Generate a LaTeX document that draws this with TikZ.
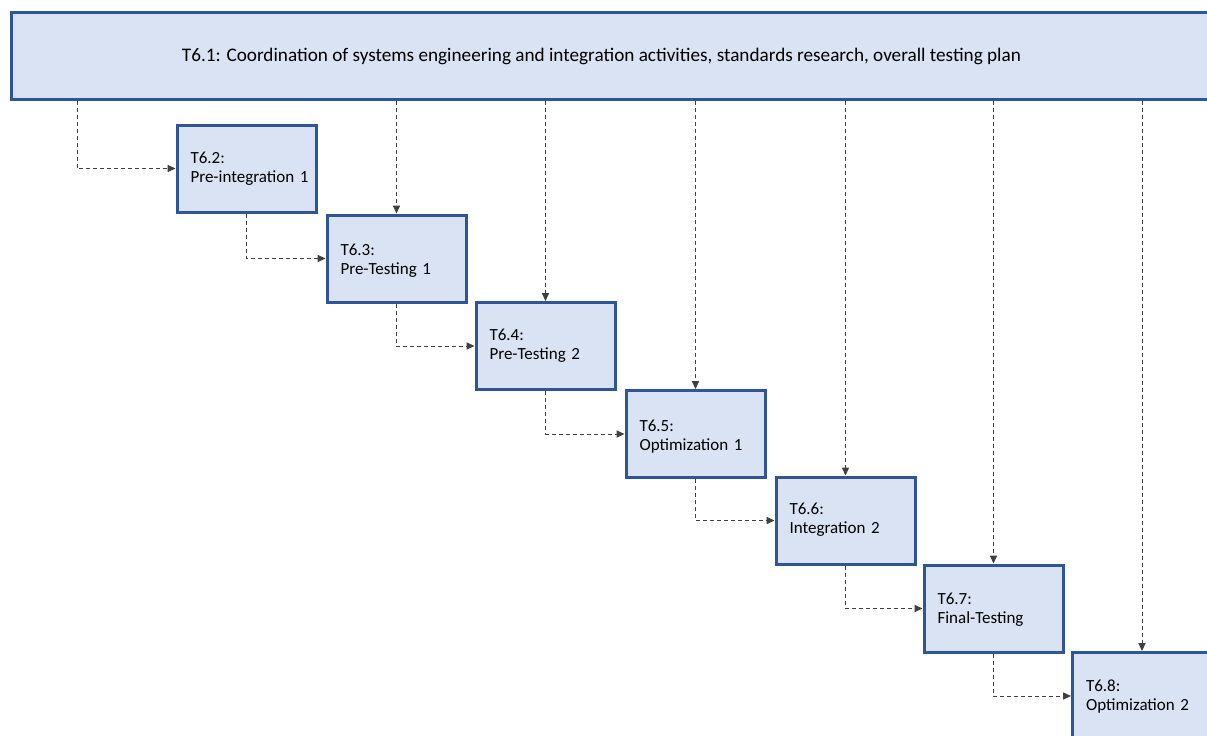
\documentclass[tikz,border=0pt]{standalone}
\usepackage{fontspec}
\setmainfont{Carlito}
\usetikzlibrary{arrows.meta}
\definecolor{taskborder}{HTML}{2F5597}
\definecolor{taskfill}{HTML}{DAE3F3}
\definecolor{linkgray}{HTML}{404040}
\tikzset{
  banner/.style={draw=taskborder, fill=taskfill, line width=1.5pt, rectangle,
    minimum width=605pt, minimum height=43.5pt, inner sep=0pt},
  taskbox/.style={draw=taskborder, fill=taskfill, line width=1.5pt, rectangle,
    minimum width=69.5pt, minimum height=43.5pt, inner sep=0pt,
    text width=56pt, align=left, font=\fontsize{8.5pt}{9.5pt}\selectfont,
    text height=5.5pt, text depth=8.2pt},
  % a deeper text box lifts the two-line title inside its box
  lift/.style={text depth=#1},
  link/.style={draw=linkgray, line width=0.5pt, dash pattern=on 2pt off 1.5pt,
    -{Triangle[length=4pt,width=3.6pt]}},
}
\begin{document}
\begin{tikzpicture}[x=0.5pt, y=-0.5pt]
  \useasboundingbox (0,0) rectangle (1207,735);
  \clip (0,0) rectangle (1207,735);

  % overall coordination task
  \node[banner, anchor=west] (t61) at (9.5,55.5) {};
  \node[font=\fontsize{9.6pt}{10pt}\selectfont, anchor=base] (t61text) at (601.5,61.7)
    {T6.1: Coordination of systems engineering and integration activities, standards research, overall testing plan};

  % staircase of sub-tasks (titles kept on one line each)
  \node[taskbox, lift=11pt]   (t62) at (246.5,168.5) {T6.2:\\\mbox{Pre-integration 1}};
  \node[taskbox]              (t63) at (396.5,258.5) {T6.3:\\\mbox{Pre-Testing 1}};
  \node[taskbox, lift=11pt]   (t64) at (545.5,346)   {T6.4:\\\mbox{Pre-Testing 2}};
  \node[taskbox]              (t65) at (695.5,434)   {T6.5:\\\mbox{Optimization 1}};
  \node[taskbox, lift=12pt]   (t66) at (845.5,520.5) {T6.6:\\\mbox{Integration 2}};
  \node[taskbox, lift=10pt]   (t67) at (993.5,608.5) {T6.7:\\\mbox{Final-Testing}};
  \node[taskbox, lift=10pt]   (t68) at (1142,696)    {T6.8:\\\mbox{Optimization 2}};

  % links from the coordination task
  \coordinate (d62) at (77,0);
  \draw[link] (t61.south -| d62) |- (t62.west);
  \foreach \n in {63,64,65,66,67,68}
    \draw[link] (t61.south -| t\n.north) -- (t\n.north);

  % sequential links between sub-tasks
  \draw[link] (t62.south) |- (t63.west);
  \draw[link] (t63.south) |- (t64.west);
  \draw[link] (t64.south) |- (t65.west);
  \draw[link] (t65.south) |- (t66.west);
  \draw[link] (t66.south) |- (t67.west);
  \draw[link] (t67.south) |- (t68.west);
\end{tikzpicture}
\end{document}
